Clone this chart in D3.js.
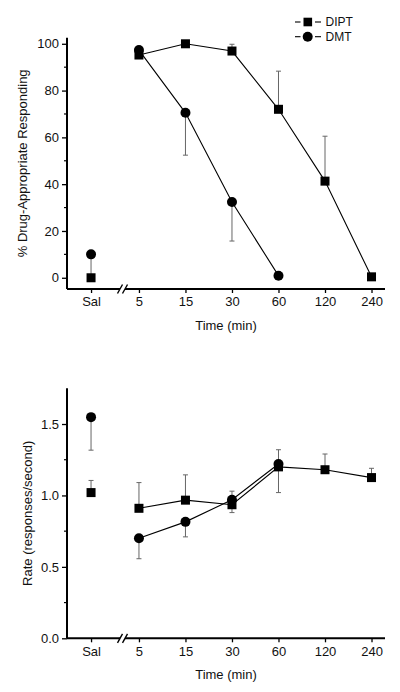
<!DOCTYPE html>
<html><head><meta charset="utf-8">
<script src="https://cdn.jsdelivr.net/npm/d3@7"></script>
<style>body{margin:0;background:#fff}svg{display:block;font-family:"Liberation Sans",Arial,sans-serif}</style>
</head><body>
<script>
const categories = ["Sal","5","15","30","60","120","240"];
const catPos = [-1.03,0,1,2,3,4,5];
// Top panel: % drug-appropriate responding
const diptPct = [0,95.2,100,96.9,72,41.3,0.4];
const diptPctErr = [0,0,0,2.9,16.3,19.2,0];
const dmtPct = [10,97.3,70.5,32.4,0.9];
const dmtPctErr = [10,0,18.1,16.7,0];
// Bottom panel: rate
const diptRate = [1.02,0.91,0.967,0.935,1.2,1.18,1.125];
const diptRateErr = [0.085,0.18,0.177,0.095,0.12,0.11,0.065];
const dmtRate = [1.548,0.70,0.815,0.97,1.22];
const dmtRateErr = [0.231,0.143,0.105,0.09,0.2];
const pctTicks = [0,20,40,60,80,100];
const pctMinor = [10,30,50,70,90];
const rateTicks = [0,0.5,1.0,1.5];
const rateMinor = [0.25,0.75,1.25];

const W=400,H=692;
const svg=d3.select("body").append("svg").attr("width",W).attr("height",H);
const x=d3.scaleLinear().domain([-1.547,5.29]).range([67,385]);

function panel(cfg){
  const g=svg.append("g");
  const y=d3.scaleLinear().domain(cfg.domain).range([cfg.bottom,cfg.top]);
  const xa=d3.axisBottom(x).tickValues(catPos).tickFormat((d,i)=>categories[i]).tickSizeOuter(0).tickSizeInner(4).tickPadding(4);
  const gx=g.append("g").attr("transform",`translate(0,${cfg.bottom})`).call(xa);
  gx.select(".domain").attr("stroke-width",2).attr("d",`M${x.range()[0]},0H${x.range()[1]}`);
  gx.selectAll(".tick line").attr("stroke-width",1.3);
  gx.selectAll("text").attr("font-size",13).attr("fill","#111");
  const bx=123;
  g.append("rect").attr("x",bx-3).attr("y",cfg.bottom-2).attr("width",5).attr("height",4).attr("fill","#fff");
  [-3,2].forEach(o=>g.append("line").attr("x1",bx+o-2.5).attr("y1",cfg.bottom+4.5).attr("x2",bx+o+2.5).attr("y2",cfg.bottom-4.5).attr("stroke","#000").attr("stroke-width",1.4));
  const ya=d3.axisLeft(y).tickValues(cfg.ticks).tickFormat(cfg.fmt).tickSizeOuter(0).tickSizeInner(5).tickPadding(3);
  const gy=g.append("g").attr("transform",`translate(67,0)`).call(ya);
  gy.select(".domain").attr("stroke-width",2).attr("d",`M0,${cfg.bottom}V${cfg.top}`);
  gy.selectAll(".tick line").attr("stroke-width",1.3);
  gy.selectAll("text").attr("font-size",13).attr("fill","#111");
  g.selectAll(".minor").data(cfg.minor).join("line").attr("x1",64).attr("x2",67).attr("y1",d=>y(d)).attr("y2",d=>y(d)).attr("stroke","#000").attr("stroke-width",1.2);
  g.append("text").attr("x",226).attr("y",cfg.bottom+41).attr("text-anchor","middle").attr("font-size",13).attr("fill","#111").text("Time (min)");
  g.append("text").attr("transform",`translate(${cfg.ylx},${(cfg.top+cfg.bottom)/2}) rotate(-90)`).attr("text-anchor","middle").attr("font-size",13).attr("fill","#111").text(cfg.ylabel);
  function errs(vals,err,dir){
    vals.forEach((v,i)=>{
      if(!err[i])return;
      const px=x(catPos[i]),y0=y(v),y1=y(v+dir*err[i]);
      g.append("line").attr("x1",px).attr("x2",px).attr("y1",y0).attr("y2",y1).attr("stroke","#666").attr("stroke-width",1);
      g.append("line").attr("x1",px-2.5).attr("x2",px+2.5).attr("y1",y1).attr("y2",y1).attr("stroke","#666").attr("stroke-width",1);
    });
  }
  errs(cfg.dipt,cfg.diptErr,1);
  errs(cfg.dmt,cfg.dmtErr,-1);
  const line=d3.line().x(d=>x(d[0])).y(d=>y(d[1]));
  const dp=cfg.dipt.map((v,i)=>[catPos[i],v]).slice(1);
  const mp=cfg.dmt.map((v,i)=>[catPos[i],v]).slice(1);
  g.append("path").attr("d",line(dp)).attr("fill","none").attr("stroke","#000").attr("stroke-width",1.1);
  g.append("path").attr("d",line(mp)).attr("fill","none").attr("stroke","#000").attr("stroke-width",1.1);
  g.selectAll(".sq").data(cfg.dipt).join("rect").attr("x",(d,i)=>x(catPos[i])-4.5).attr("y",d=>y(d)-4.5).attr("width",9).attr("height",9).attr("fill","#000");
  g.selectAll(".ci").data(cfg.dmt).join("circle").attr("cx",(d,i)=>x(catPos[i])).attr("cy",d=>y(d)).attr("r",5).attr("fill","#000");
}

panel({domain:[-4.8,102.6],top:37.7,bottom:289,ticks:pctTicks,minor:pctMinor,fmt:d3.format("d"),
  dipt:diptPct,diptErr:diptPctErr,dmt:dmtPct,dmtErr:dmtPctErr,ylabel:"% Drug-Appropriate Responding",ylx:27});
panel({domain:[0,1.75],top:388.3,bottom:638.3,ticks:rateTicks,minor:rateMinor,fmt:d3.format(".1f"),
  dipt:diptRate,diptErr:diptRateErr,dmt:dmtRate,dmtErr:dmtRateErr,ylabel:"Rate (responses/second)",ylx:32});

const leg=svg.append("g");
[["DIPT",22,"sq"],["DMT",36.7,"ci"]].forEach(([t,yy,m])=>{
  leg.append("line").attr("x1",295).attr("x2",300.5).attr("y1",yy).attr("y2",yy).attr("stroke","#000").attr("stroke-width",1.1);
  leg.append("line").attr("x1",315).attr("x2",321).attr("y1",yy).attr("y2",yy).attr("stroke","#000").attr("stroke-width",1.1);
  if(m==="sq") leg.append("rect").attr("x",303.5).attr("y",yy-4.3).attr("width",8.6).attr("height",8.6).attr("fill","#000");
  else leg.append("circle").attr("cx",307.7).attr("cy",yy).attr("r",5).attr("fill","#000");
  leg.append("text").attr("x",325.5).attr("y",yy+4.3).attr("font-size",12).attr("fill","#111").text(t);
});
</script>
</body></html>
